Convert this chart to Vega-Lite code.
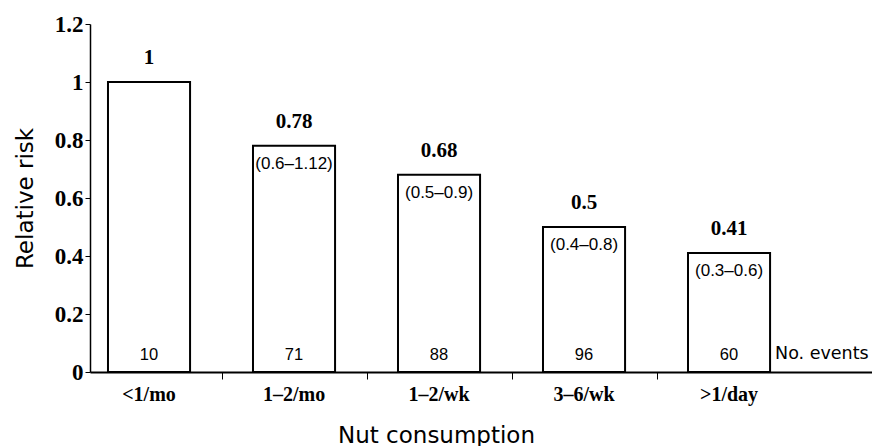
{
  "$schema": "https://vega.github.io/schema/vega-lite/v6.json",
  "width": 782,
  "height": 348,
  "autosize": {"type": "none"},
  "padding": {"left": 90, "top": 24, "right": 0, "bottom": 74},
  "background": "white",
  "config": {"view": {"stroke": null}},
  "data": {
    "values": [
      {"cat": "<1/mo", "rr": 1, "ci": "", "n": 10},
      {"cat": "1–2/mo", "rr": 0.78, "ci": "(0.6–1.12)", "n": 71},
      {"cat": "1–2/wk", "rr": 0.68, "ci": "(0.5–0.9)", "n": 88},
      {"cat": "3–6/wk", "rr": 0.5, "ci": "(0.4–0.8)", "n": 96},
      {"cat": ">1/day", "rr": 0.41, "ci": "(0.3–0.6)", "n": 60}
    ]
  },
  "encoding": {
    "x": {
      "field": "cat",
      "type": "nominal",
      "sort": null,
      "axis": null,
      "scale": {"paddingInner": 0.434, "paddingOuter": 0.4135, "align": 0.15}
    }
  },
  "layer": [
    {
      "mark": {"type": "bar", "fill": "white", "stroke": "black", "strokeWidth": 2},
      "encoding": {
        "x": {
          "field": "cat", "type": "nominal", "sort": null,
          "axis": {
            "orient": "bottom",
            "title": "Nut consumption",
            "titleFont": "DejaVu Sans",
            "titleFontSize": 23,
            "titleFontWeight": "normal",
            "titleColor": "black",
            "titlePadding": 20,
            "titleX": 346,
            "labelFont": "Liberation Serif",
            "labelFontWeight": "bold",
            "labelFontSize": 20,
            "labelColor": "black",
            "labelAngle": 0,
            "labelPadding": 12,
            "ticks": false,
            "domain": true,
            "domainColor": "black",
            "domainWidth": 2
          }
        },
        "y": {
          "field": "rr",
          "type": "quantitative",
          "scale": {"domain": [0, 1.2], "nice": false},
          "axis": {
            "title": "Relative risk",
            "titleFont": "DejaVu Sans",
            "titleFontSize": 23,
            "titleFontWeight": "normal",
            "titleColor": "black",
            "titlePadding": 17,
            "values": [0, 0.2, 0.4, 0.6, 0.8, 1, 1.2],
            "format": "~g",
            "labelFont": "Liberation Serif",
            "labelFontWeight": "bold",
            "labelFontSize": 23,
            "labelColor": "black",
            "labelPadding": 2,
            "tickSize": 5,
            "tickColor": "black",
            "domainColor": "black",
            "domainWidth": 1.5,
            "grid": false
          }
        }
      }
    },
    {
      "mark": {"type": "text", "baseline": "bottom", "dy": -14, "font": "Liberation Serif", "fontWeight": "bold", "fontSize": 21, "color": "black"},
      "encoding": {
        "x": {
          "field": "cat", "type": "nominal", "sort": null,
          "axis": {
            "orient": "bottom",
            "values": ["<1/mo", "1–2/mo", "1–2/wk", "3–6/wk"],
            "tickOffset": 72.5,
            "labels": false,
            "domain": false,
            "title": null,
            "ticks": true,
            "tickSize": 7,
            "tickColor": "black",
            "tickWidth": 1
          }
        },
        "y": {"field": "rr", "type": "quantitative"},
        "text": {"field": "rr", "type": "quantitative"}
      }
    },
    {
      "mark": {"type": "text", "baseline": "top", "dy": 10, "font": "Liberation Sans", "fontSize": 17, "color": "black"},
      "encoding": {
        "y": {"field": "rr", "type": "quantitative"},
        "text": {"field": "ci", "type": "nominal"}
      }
    },
    {
      "mark": {"type": "text", "baseline": "bottom", "dy": -9, "font": "Liberation Sans", "fontSize": 16.5, "color": "black"},
      "encoding": {
        "y": {"datum": 0, "type": "quantitative"},
        "text": {"field": "n", "type": "quantitative"}
      }
    },
    {
      "data": {"values": [{"cat": ">1/day", "label": "No. events"}]},
      "mark": {"type": "text", "align": "left", "baseline": "bottom", "dx": 46, "dy": -9, "font": "DejaVu Sans", "fontSize": 17.5, "color": "black"},
      "encoding": {
        "y": {"datum": 0, "type": "quantitative"},
        "text": {"field": "label", "type": "nominal"}
      }
    }
  ],
  "resolve": {"axis": {"x": "independent"}}
}
